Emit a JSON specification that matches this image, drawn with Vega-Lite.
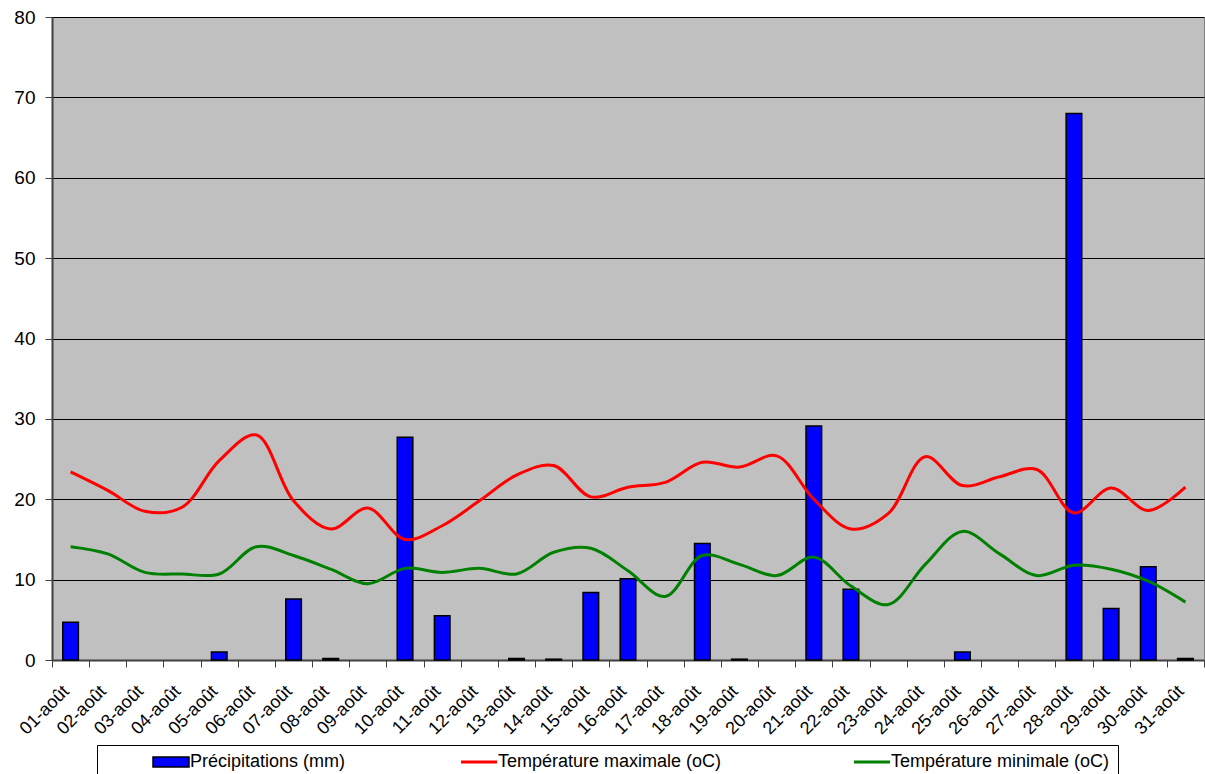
{
  "$schema": "https://vega.github.io/schema/vega-lite/v6.json",
  "width": 1152,
  "height": 643,
  "autosize": {"type": "none"},
  "padding": {"left": 52, "top": 17, "right": 1, "bottom": 114},
  "background": "white",
  "config": {
    "view": {"fill": "#c0c0c0", "stroke": "#808080", "strokeWidth": 1},
    "font": "Liberation Sans"
  },
  "data": {
    "values": [
      {"jour": "01-août", "precip": 4.7, "tmax": 23.4, "tmin": 14.1},
      {"jour": "02-août", "precip": 0, "tmax": 21.1, "tmin": 13.2},
      {"jour": "03-août", "precip": 0, "tmax": 18.5, "tmin": 10.9},
      {"jour": "04-août", "precip": 0, "tmax": 19.0, "tmin": 10.7},
      {"jour": "05-août", "precip": 1.0, "tmax": 24.8, "tmin": 10.7},
      {"jour": "06-août", "precip": 0, "tmax": 28.0, "tmin": 14.1},
      {"jour": "07-août", "precip": 7.6, "tmax": 19.8, "tmin": 13.0},
      {"jour": "08-août", "precip": 0.2, "tmax": 16.3, "tmin": 11.3},
      {"jour": "09-août", "precip": 0, "tmax": 18.9, "tmin": 9.5},
      {"jour": "10-août", "precip": 27.7, "tmax": 15.0, "tmin": 11.4},
      {"jour": "11-août", "precip": 5.5, "tmax": 16.7, "tmin": 10.9},
      {"jour": "12-août", "precip": 0, "tmax": 19.8, "tmin": 11.4},
      {"jour": "13-août", "precip": 0.2, "tmax": 23.0, "tmin": 10.7},
      {"jour": "14-août", "precip": 0.1, "tmax": 24.2, "tmin": 13.4},
      {"jour": "15-août", "precip": 8.4, "tmax": 20.3, "tmin": 13.9},
      {"jour": "16-août", "precip": 10.1, "tmax": 21.5, "tmin": 11.1},
      {"jour": "17-août", "precip": 0, "tmax": 22.1, "tmin": 7.9},
      {"jour": "18-août", "precip": 14.5, "tmax": 24.6, "tmin": 13.0},
      {"jour": "19-août", "precip": 0.1, "tmax": 24.0, "tmin": 11.9},
      {"jour": "20-août", "precip": 0, "tmax": 25.4, "tmin": 10.5},
      {"jour": "21-août", "precip": 29.1, "tmax": 20.0, "tmin": 12.8},
      {"jour": "22-août", "precip": 8.8, "tmax": 16.3, "tmin": 9.2},
      {"jour": "23-août", "precip": 0, "tmax": 18.2, "tmin": 6.9},
      {"jour": "24-août", "precip": 0, "tmax": 25.3, "tmin": 11.9},
      {"jour": "25-août", "precip": 1.0, "tmax": 21.7, "tmin": 16.0},
      {"jour": "26-août", "precip": 0, "tmax": 22.8, "tmin": 13.2},
      {"jour": "27-août", "precip": 0, "tmax": 23.7, "tmin": 10.5},
      {"jour": "28-août", "precip": 68.0, "tmax": 18.3, "tmin": 11.8},
      {"jour": "29-août", "precip": 6.4, "tmax": 21.4, "tmin": 11.3},
      {"jour": "30-août", "precip": 11.6, "tmax": 18.6, "tmin": 9.8},
      {"jour": "31-août", "precip": 0.2, "tmax": 21.5, "tmin": 7.2}
    ]
  },
  "encoding": {
    "x": {
      "field": "jour",
      "type": "nominal",
      "sort": null,
      "scale": {
        "domain": ["01-août", "02-août", "03-août", "04-août", "05-août", "06-août", "07-août", "08-août", "09-août", "10-août", "11-août", "12-août", "13-août", "14-août", "15-août", "16-août", "17-août", "18-août", "19-août", "20-août", "21-août", "22-août", "23-août", "24-août", "25-août", "26-août", "27-août", "28-août", "29-août", "30-août", "31-août"],
        "paddingInner": 0,
        "paddingOuter": 0
      },
      "axis": {
        "title": null,
        "labelAngle": -45,
        "labelFont": "Liberation Sans",
        "labelFontSize": 18,
        "labelColor": "black",
        "tickBand": "extent",
        "tickSize": 7,
        "tickColor": "#404040",
        "domainColor": "#404040",
        "domainWidth": 2,
        "labelPadding": 15,
        "labelOffset": -11,
        "grid": false
      }
    }
  },
  "layer": [
    {
      "transform": [{"filter": "datum.precip > 0"}],
      "mark": {"type": "bar", "width": {"band": 0.42}, "stroke": "black", "strokeWidth": 1.5},
      "encoding": {
        "y": {
          "field": "precip",
          "type": "quantitative",
          "scale": {"domain": [0, 80], "nice": false},
          "axis": {
            "title": null,
            "values": [0, 10, 20, 30, 40, 50, 60, 70, 80],
            "labelFont": "Liberation Sans",
            "labelFontSize": 19,
            "labelColor": "black",
            "tickSize": 7,
            "tickColor": "#404040",
            "domainColor": "#404040",
            "domainWidth": 2,
            "gridColor": "black",
            "gridWidth": 1,
            "gridOpacity": 1,
            "labelPadding": 10
          }
        },
        "fill": {
          "datum": "Précipitations (mm)",
          "type": "nominal",
          "scale": {"domain": ["Précipitations (mm)"], "range": ["#0000ff"]},
          "legend": {
            "orient": "none",
            "legendX": 42,
            "legendY": 728,
            "direction": "horizontal",
            "title": null,
            "padding": 8,
            "labelFont": "Liberation Sans",
            "labelFontSize": 18,
            "labelColor": "black",
            "labelLimit": 400,
            "symbolType": "M0,-1H7.2V1H0Z",
            "symbolSize": 100,
            "symbolOffset": 42,
            "labelOffset": 28,
            "symbolStrokeColor": "black",
            "symbolStrokeWidth": 1.5,
            "symbolOpacity": 1
          }
        }
      }
    },
    {
      "mark": {"type": "line", "interpolate": "catmull-rom", "strokeWidth": 3},
      "encoding": {
        "y": {"field": "tmax", "type": "quantitative"},
        "stroke": {
          "datum": "Température maximale (oC)",
          "type": "nominal",
          "scale": {"domain": ["Température maximale (oC)"], "range": ["#ff0000"]},
          "legend": {
            "orient": "none",
            "legendX": 45,
            "legendY": 728,
            "direction": "horizontal",
            "title": null,
            "padding": 8,
            "labelFont": "Liberation Sans",
            "labelFontSize": 18,
            "labelColor": "black",
            "labelLimit": 400,
            "symbolType": "M0,0H7.2",
            "symbolSize": 100,
            "symbolStrokeWidth": 3,
            "symbolOffset": 347,
            "labelOffset": 28,
            "symbolOpacity": 1
          }
        }
      }
    },
    {
      "mark": {"type": "line", "interpolate": "catmull-rom", "strokeWidth": 3},
      "encoding": {
        "y": {"field": "tmin", "type": "quantitative"},
        "color": {
          "datum": "Température minimale (oC)",
          "type": "nominal",
          "scale": {"domain": ["Température minimale (oC)"], "range": ["#008000"]},
          "legend": {
            "orient": "none",
            "legendX": 45,
            "legendY": 728,
            "direction": "horizontal",
            "title": null,
            "strokeColor": "black",
            "padding": 8,
            "labelFont": "Liberation Sans",
            "labelFontSize": 18,
            "labelColor": "black",
            "labelLimit": 500,
            "labelExpr": "datum.label + '         '",
            "symbolType": "M0,0H7.2",
            "symbolSize": 100,
            "symbolStrokeWidth": 3,
            "symbolOffset": 740,
            "labelOffset": 28,
            "symbolOpacity": 1
          }
        }
      }
    }
  ]
}
